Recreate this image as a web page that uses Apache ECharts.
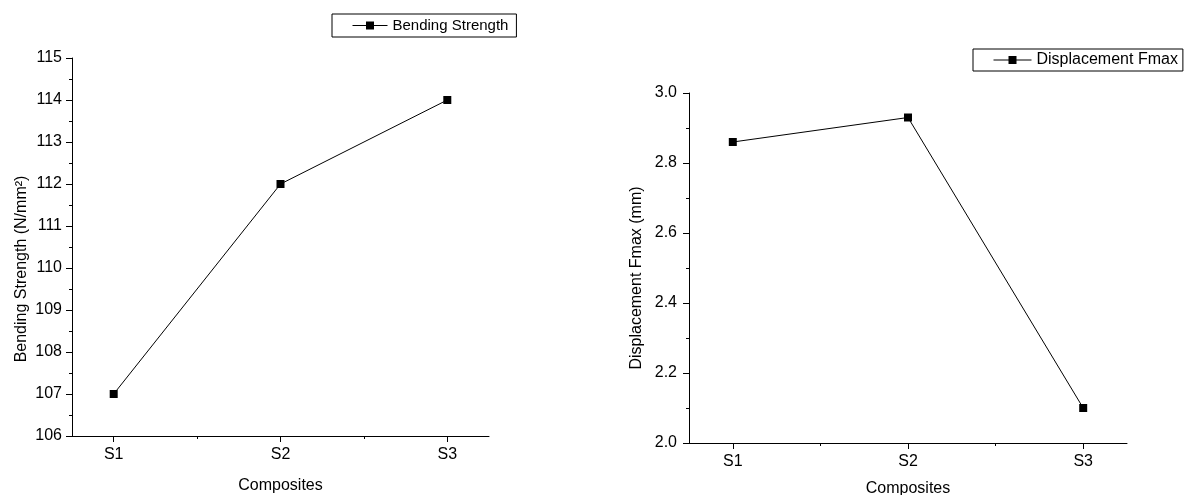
<!DOCTYPE html>
<html>
<head>
<meta charset="utf-8">
<script src="https://cdn.jsdelivr.net/npm/echarts@6/dist/echarts.min.js"></script>
<style>
html,body{margin:0;padding:0;background:#fff;}
#c{width:1187px;height:495px;}
</style>
</head>
<body>
<div id="c"></div>
<script>
// ---- data ----
const categories = ['S1', 'S2', 'S3'];
const bendingStrength = [107, 112, 114];
const displacementFmax = [2.86, 2.93, 2.10];
const bendingName = 'Bending Strength';
const displacementName = 'Displacement Fmax';
const xTitle = 'Composites';
const leftYTitle = 'Bending Strength (N/mm²)';
const rightYTitle = 'Displacement Fmax (mm)';

const FONT = '"Liberation Sans", Arial, sans-serif';
const catPos = categories.map((c, i) => i + 1);
const midPos = catPos.slice(0, -1).map(v => v + 0.5);
const toPairs = arr => arr.map((v, i) => [catPos[i], v]);

function xAxes(grid, fs, gap, margin) {
  return [
    {
      type: 'value', gridIndex: grid, min: 0.75, max: 3.25, position: 'bottom',
      axisLine: { show: true, lineStyle: { color: '#000', width: 1 } },
      axisTick: { show: true, customValues: catPos, length: 6, lineStyle: { color: '#000' } },
      axisLabel: { customValues: catPos, formatter: v => categories[Math.round(v) - 1] || '',
        color: '#000', fontSize: fs, fontFamily: FONT, margin: margin },
      splitLine: { show: false },
      name: xTitle, nameLocation: 'middle',
      nameGap: gap,
      nameTextStyle: { color: '#000', fontSize: fs, fontFamily: FONT }
    },
    {
      type: 'value', gridIndex: grid, min: 0.75, max: 3.25, position: 'bottom',
      axisLine: { show: false },
      axisTick: { show: true, customValues: midPos, length: 3, lineStyle: { color: '#000' } },
      axisLabel: { show: false },
      splitLine: { show: false }
    }
  ];
}

const chart = echarts.init(document.getElementById('c'), null, { renderer: 'canvas' });
chart.setOption({
  backgroundColor: '#fff',
  animation: false,
  grid: [
    { left: 72, top: 58, width: 417, height: 378, containLabel: false, outerBoundsMode: 'none' },
    { left: 689, top: 93, width: 438, height: 350, containLabel: false, outerBoundsMode: 'none' }
  ],
  legend: [
    {
      data: [bendingName], left: 332, top: 14,
      orient: 'horizontal',
      borderColor: '#000', borderWidth: 1, borderRadius: 0,
      padding: [4, 8, 4, 20],
      itemWidth: 35, itemHeight: 10, itemGap: 5,
      lineStyle: { width: 1, color: '#000' },
      textStyle: { color: '#000', fontSize: 15, fontFamily: FONT }
    },
    {
      data: [displacementName], left: 973, top: 49,
      borderColor: '#000', borderWidth: 1, borderRadius: 0,
      padding: [3, 5, 3, 20],
      itemWidth: 38, itemHeight: 10, itemGap: 5,
      lineStyle: { width: 1, color: '#000' },
      textStyle: { color: '#000', fontSize: 16, fontFamily: FONT }
    }
  ],
  xAxis: [...xAxes(0, 16, 42, 11), ...xAxes(1, 16, 38, 11)],
  yAxis: [
    {
      type: 'value', gridIndex: 0, min: 106, max: 115, interval: 1,
      axisLine: { show: true, lineStyle: { color: '#000', width: 1 } },
      axisTick: { show: true, length: 6, lineStyle: { color: '#000' } },
      minorTick: { show: true, splitNumber: 2, length: 3, lineStyle: { color: '#000' } },
      axisLabel: { color: '#000', fontSize: 16, fontFamily: FONT, margin: 10 },
      splitLine: { show: false },
      name: leftYTitle, nameLocation: 'middle', nameGap: 42,
      nameTextStyle: { color: '#000', fontSize: 16, fontFamily: FONT, padding: [0, 44, 0, 0] }
    },
    {
      type: 'value', gridIndex: 1, min: 2.0, max: 3.0, interval: 0.2,
      axisLine: { show: true, lineStyle: { color: '#000', width: 1 } },
      axisTick: { show: true, length: 6, lineStyle: { color: '#000' } },
      minorTick: { show: true, splitNumber: 2, length: 3, lineStyle: { color: '#000' } },
      axisLabel: { color: '#000', fontSize: 16, fontFamily: FONT, margin: 12,
        formatter: v => v.toFixed(1) },
      splitLine: { show: false },
      name: rightYTitle, nameLocation: 'middle', nameGap: 44,
      nameTextStyle: { color: '#000', fontSize: 16, fontFamily: FONT, padding: [0, 20, 0, 0] }
    }
  ],
  series: [
    {
      name: bendingName, type: 'line', xAxisIndex: 0, yAxisIndex: 0,
      data: toPairs(bendingStrength),
      symbol: 'rect', symbolSize: 8,
      lineStyle: { color: '#000', width: 1 },
      itemStyle: { color: '#000' }
    },
    {
      name: displacementName, type: 'line', xAxisIndex: 2, yAxisIndex: 1,
      data: toPairs(displacementFmax),
      symbol: 'rect', symbolSize: 8,
      lineStyle: { color: '#000', width: 1 },
      itemStyle: { color: '#000' }
    }
  ]
});
</script>
</body>
</html>
